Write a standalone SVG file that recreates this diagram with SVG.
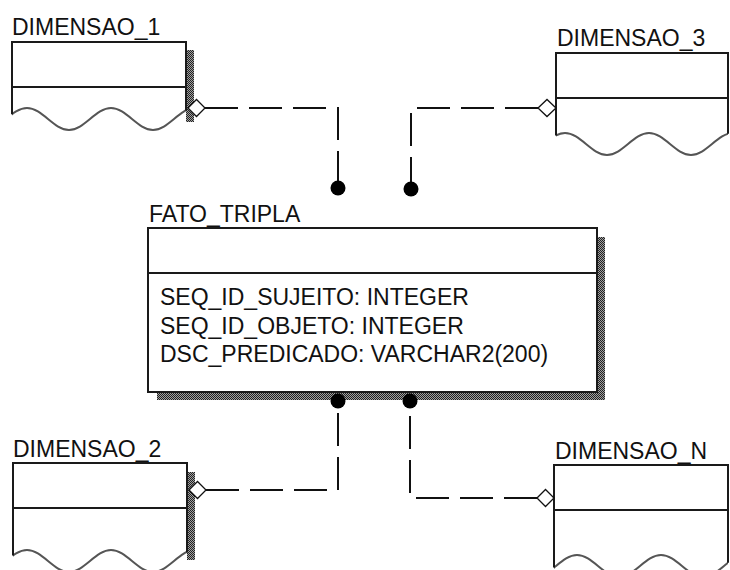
<svg xmlns="http://www.w3.org/2000/svg" xmlns:xlink="http://www.w3.org/1999/xlink" width="730" height="570" viewBox="0 0 730 570">
<defs>
<style>
.lbl{font-family:"Liberation Sans",Arial,sans-serif;font-size:23px;fill:#111}
.box{fill:#fff;stroke:none}
.edge{fill:none;stroke:#1a1a1a;stroke-width:2}
.wave{fill:none;stroke:#555;stroke-width:2}
.shadow{fill:url(#hatch)}
.conn{fill:none;stroke:#111;stroke-width:2;stroke-dasharray:33 11}
.dia{fill:#fff;stroke:#111;stroke-width:1.3}
.dot{fill:#000}
</style>
<pattern id="hatch" width="2" height="2" patternUnits="userSpaceOnUse">
<rect width="2" height="2" fill="#a0a0a0"/>
<rect width="1" height="1" fill="#222"/>
<rect x="1" y="1" width="1" height="1" fill="#222"/>
</pattern>
<path id="wave" d="M0 0 c15.3 0 26.7 22 42 22 s26.7 -22 42 -22 s26.7 22 42 22 s26.7 -22 42 -22 s26.7 22 42 22 s26.7 -22 42 -22"/>
<clipPath id="c1"><rect x="12" y="90" width="174" height="60"/></clipPath>
<clipPath id="c2"><rect x="13" y="530" width="174" height="60"/></clipPath>
<clipPath id="c3"><rect x="556" y="110" width="172" height="60"/></clipPath>
<clipPath id="c4"><rect x="554" y="530" width="174" height="60"/></clipPath>
</defs>
<rect width="730" height="570" fill="#fff"/>

<g id="dimensao_1">
<rect class="shadow" x="186" y="50" width="8" height="72"/>
<path class="box" d="M12 42 H186 V110 L12 114 Z"/>
<g clip-path="url(#c1)"><use xlink:href="#wave" x="-57" y="108" class="wave"/></g>
<path class="edge" d="M12 114.3 V42 H186 V110.4 M12 87 H186"/>
<polygon class="dia" points="188,108 196.5,99.5 205,108 196.5,116.5"/>
<text class="lbl" x="12" y="35">DIMENSAO_1</text>
</g>

<g id="dimensao_3">
<path class="box" d="M556 53 H728 V134 L556 135 Z"/>
<g clip-path="url(#c3)"><use xlink:href="#wave" x="481" y="133" class="wave"/></g>
<path class="edge" d="M556 135.4 V53 H728 V133.8 M556 98 H728"/>
<polygon class="dia" points="538,108 547,99.5 556,108 547,116.5"/>
<text class="lbl" x="557" y="46">DIMENSAO_3</text>
</g>

<g id="fato_tripla">
<rect class="shadow" x="597" y="237" width="8" height="163"/>
<rect class="shadow" x="157" y="392" width="448" height="8"/>
<rect x="148" y="228" width="449" height="164" fill="#fff" stroke="#1a1a1a" stroke-width="2"/>
<line class="edge" x1="148" y1="273" x2="597" y2="273"/>
<text class="lbl" x="149" y="222">FATO_TRIPLA</text>
<text class="lbl" x="160" y="305">SEQ_ID_SUJEITO: INTEGER</text>
<text class="lbl" x="160" y="333.5">SEQ_ID_OBJETO: INTEGER</text>
<text class="lbl" x="160" y="362">DSC_PREDICADO: VARCHAR2(200)</text>
</g>

<g id="dimensao_2">
<rect class="shadow" x="187" y="472" width="8" height="88"/>
<path class="box" d="M13 463 H187 V552 L13 556 Z"/>
<g clip-path="url(#c2)"><use xlink:href="#wave" x="-57" y="550" class="wave"/></g>
<path class="edge" d="M13 555.6 V463 H187 V552.4 M13 508 H187"/>
<polygon class="dia" points="189,490 197.5,481.5 206,490 197.5,498.5"/>
<text class="lbl" x="13" y="457">DIMENSAO_2</text>
</g>

<g id="dimensao_n">
<path class="box" d="M554 465 H728 V562 L554 567 Z"/>
<g clip-path="url(#c4)"><use xlink:href="#wave" x="493" y="555" class="wave"/></g>
<path class="edge" d="M554 567.6 V465 H728 V562.7 M554 510 H728"/>
<polygon class="dia" points="537,498 545.5,489.5 554,498 545.5,506.5"/>
<text class="lbl" x="555" y="459">DIMENSAO_N</text>
</g>

<g id="connectors">
<path class="conn" d="M205 108 H338 V181"/>
<path class="conn" d="M538 108 H411 V182"/>
<path class="conn" d="M206 490 H338 V408"/>
<path class="conn" d="M537 498 H410 V408"/>
<circle class="dot" cx="338" cy="188" r="7.5"/>
<circle class="dot" cx="411" cy="189" r="7.5"/>
<circle class="dot" cx="338" cy="401" r="7.5"/>
<circle class="dot" cx="410" cy="401" r="7.5"/>
</g>
</svg>
